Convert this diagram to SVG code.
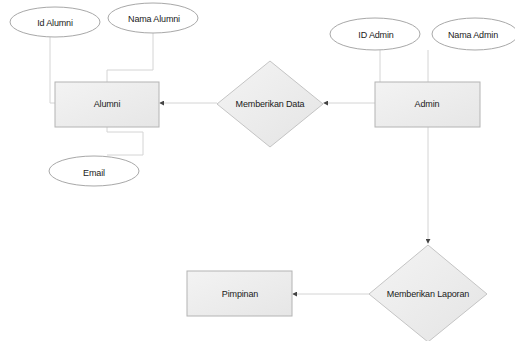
<svg xmlns="http://www.w3.org/2000/svg" width="515" height="341" viewBox="0 0 515 341">
  <style>
    .ent { fill: url(#entFill); stroke: #b4b4b4; stroke-width: 1; }
    .rel { fill: url(#relFill); stroke: #c4c4c4; stroke-width: 1; }
    .att { fill: #ffffff; stroke: #a8a8a8; stroke-width: 1; }
    .link { fill: none; stroke: #d4d4d4; stroke-width: 1; }
    text { font-family: "Liberation Sans", Arial, sans-serif; font-size: 9px; fill: #1a1a1a; text-anchor: middle; dominant-baseline: central; letter-spacing: -0.15px; }
  </style>
  <defs>
    <linearGradient id="entFill" x1="0" y1="0" x2="1" y2="1">
      <stop offset="0" stop-color="#f3f3f3"/>
      <stop offset="1" stop-color="#e6e6e6"/>
    </linearGradient>
    <linearGradient id="relFill" x1="0" y1="0" x2="1" y2="1">
      <stop offset="0" stop-color="#f4f4f4"/>
      <stop offset="1" stop-color="#e4e4e4"/>
    </linearGradient>
    <marker id="arrow" viewBox="0 0 6 6" refX="5" refY="3" markerWidth="5" markerHeight="5" orient="auto">
      <path d="M0,0 L6,3 L0,6 Z" fill="#444444"/>
    </marker>
  </defs>

  <g id="connectors">
    <path class="link" d="M50,37 V103 H55"/>
    <path class="link" d="M153,33 V70 H107 V82"/>
    <path class="link" d="M107,127 V132 H143 V155 H107"/>
    <path class="link" d="M217,103 H160" marker-end="url(#arrow)"/>
    <path class="link" d="M375,103 H324" marker-end="url(#arrow)"/>
    <path class="link" d="M380,50 V82"/>
    <path class="link" d="M428,50 V82"/>
    <path class="link" d="M428,127 V243" marker-end="url(#arrow)"/>
    <path class="link" d="M369,294 H293" marker-end="url(#arrow)"/>
  </g>

  <g id="id-alumni">
    <ellipse class="att" cx="55" cy="22" rx="45" ry="15"/>
    <text x="55" y="23">Id Alumni</text>
  </g>
  <g id="nama-alumni">
    <ellipse class="att" cx="153" cy="18" rx="45" ry="15"/>
    <text x="154" y="19">Nama Alumni</text>
  </g>
  <g id="alumni">
    <rect class="ent" x="55" y="82" width="104" height="45"/>
    <text x="107" y="104">Alumni</text>
  </g>
  <g id="email">
    <ellipse class="att" cx="94" cy="171" rx="45" ry="15"/>
    <text x="94" y="173">Email</text>
  </g>
  <g id="memberikan-data">
    <polygon class="rel" points="270,61 323,104 270,147 217,104"/>
    <text x="270" y="104">Memberikan Data</text>
  </g>
  <g id="id-admin">
    <ellipse class="att" cx="375" cy="34" rx="45" ry="16"/>
    <text x="376" y="35">ID Admin</text>
  </g>
  <g id="nama-admin">
    <ellipse class="att" cx="475" cy="34" rx="43" ry="16"/>
    <text x="473" y="35">Nama Admin</text>
  </g>
  <g id="admin">
    <rect class="ent" x="375" y="82" width="105" height="45"/>
    <text x="427" y="104">Admin</text>
  </g>
  <g id="memberikan-laporan">
    <polygon class="rel" points="428,245 487,294 428,342 369,294"/>
    <text x="428" y="294">Memberikan Laporan</text>
  </g>
  <g id="pimpinan">
    <rect class="ent" x="187" y="271" width="105" height="45"/>
    <text x="240" y="294">Pimpinan</text>
  </g>
</svg>
